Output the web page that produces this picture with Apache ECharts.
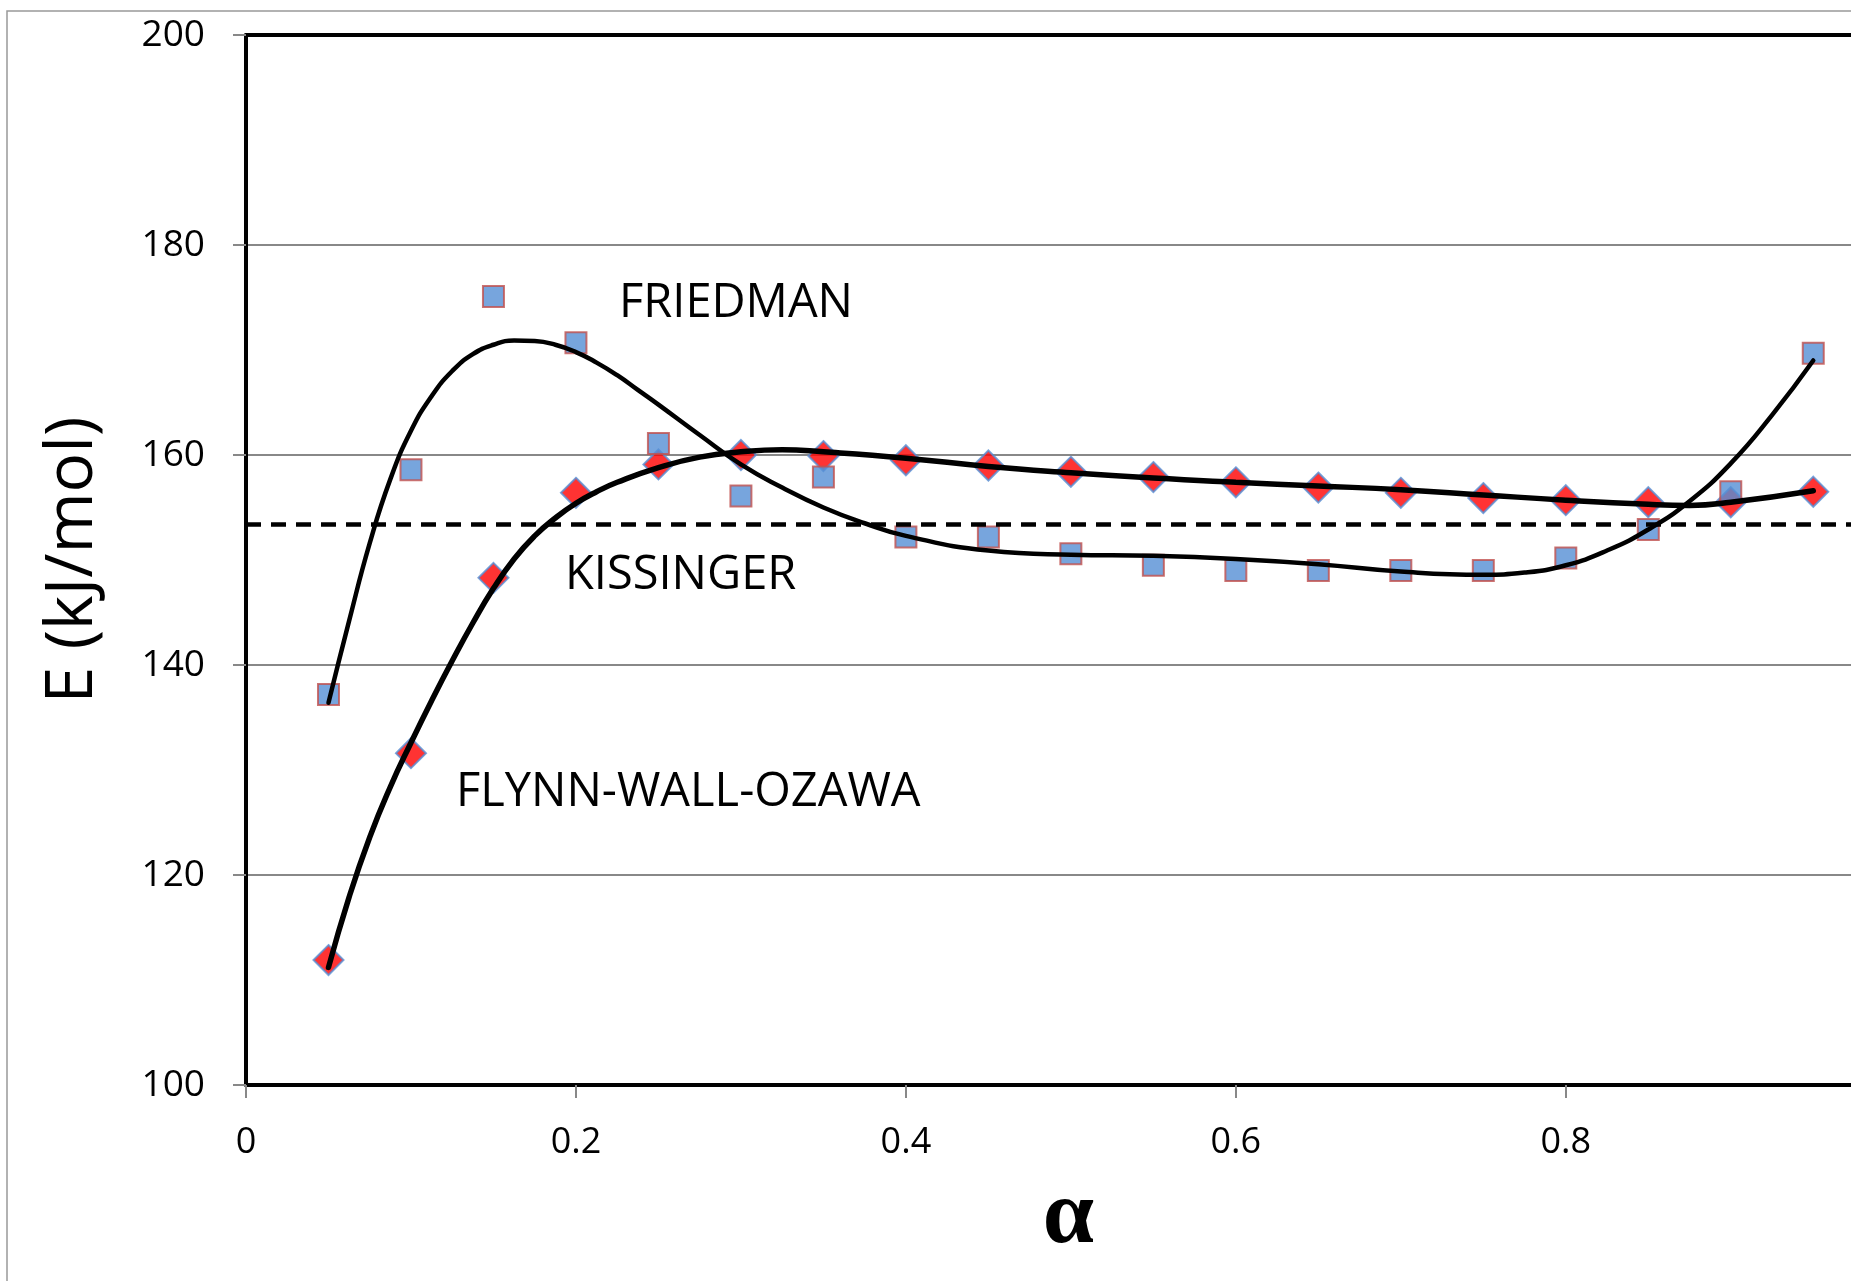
<!DOCTYPE html>
<html>
<head>
<meta charset="utf-8">
<script src="https://cdn.jsdelivr.net/npm/echarts@6/dist/echarts.min.js"></script>
<style>
html,body{margin:0;padding:0;background:#fff;}
#c{width:1851px;height:1281px;}
</style>
</head>
<body>
<div id="c"></div>
<script>
// ---- data ----
const alphaValues = [0.05,0.10,0.15,0.20,0.25,0.30,0.35,0.40,0.45,0.50,0.55,0.60,0.65,0.70,0.75,0.80,0.85,0.90,0.95];
const friedmanE   = [137.2,158.6,175.1,170.7,161.1,156.1,157.9,152.2,152.2,150.6,149.5,149.0,149.0,149.0,149.0,150.2,152.9,156.5,169.7];
const fwoE        = [111.9,131.6,148.3,156.4,159.1,160.0,159.9,159.5,159.0,158.4,157.9,157.4,156.9,156.4,155.9,155.7,155.5,155.5,156.5];
const kissingerE  = 153.4;

// trend curves as traced on the picture
const friedmanFitAlpha = [0.05,0.0625,0.075,0.0875,0.10,0.1125,0.125,0.1375,0.15,0.1625,0.175,0.1875,0.20,0.2125,0.225,0.2375,0.25,0.275,0.30,0.325,0.35,0.375,0.40,0.45,0.50,0.55,0.60,0.65,0.70,0.75,0.775,0.80,0.825,0.85,0.875,0.90,0.925,0.95];
const friedmanFitE     = [136.4,144.2,151.6,157.7,162.3,165.6,168.0,169.6,170.5,170.9,170.85,170.5,169.8,168.8,167.6,166.2,164.8,161.9,159.1,156.9,155.0,153.5,152.3,150.9,150.5,150.4,150.1,149.6,148.9,148.6,148.8,149.5,150.9,152.9,155.6,159.2,163.8,169.0];
const fwoFitAlpha = [0.05,0.0625,0.075,0.0875,0.10,0.1125,0.125,0.1375,0.15,0.1625,0.175,0.1875,0.20,0.2125,0.225,0.25,0.275,0.30,0.325,0.35,0.40,0.45,0.50,0.55,0.60,0.65,0.70,0.75,0.80,0.85,0.875,0.90,0.95];
const fwoFitE     = [111.2,117.9,123.6,128.4,132.6,136.6,140.4,144.0,147.3,150.1,152.3,154.0,155.4,156.5,157.4,158.8,159.8,160.3,160.5,160.3,159.7,158.9,158.3,157.8,157.4,157.05,156.7,156.2,155.7,155.3,155.2,155.5,156.6];

const yTicks = {min: 100, max: 200, step: 20};
const xTicks = {min: 0, max: 0.985, step: 0.2};
const labels = {friedman: 'FRIEDMAN', kissinger: 'KISSINGER', fwo: 'FLYNN-WALL-OZAWA'};

function pairs(xs, ys) { return xs.map((x, i) => [x, ys[i]]); }

const chart = echarts.init(document.getElementById('c'), null, {renderer: 'canvas'});
const FONT = '"Open Sans", "Noto Sans", sans-serif';

chart.setOption({
  animation: false,
  backgroundColor: '#ffffff',
  grid: {
    left: 246, top: 35, right: -20, bottom: 196,
    outerBoundsMode: 'none', containLabel: false,
    show: false
  },
  xAxis: [{
    type: 'value', min: xTicks.min, max: xTicks.max, interval: xTicks.step,
    name: 'α', nameLocation: 'middle', nameGap: 87,
    nameTextStyle: {fontFamily: '"Liberation Serif", "DejaVu Serif", serif', fontWeight: 'bold', fontSize: 92, color: '#000', padding: [0, 0, 0, 20]},
    axisLine: {show: true, lineStyle: {color: '#000', width: 4}},
    axisTick: {show: true, inside: false, length: 13, lineStyle: {color: '#888', width: 2}},
    axisLabel: {show: true, showMaxLabel: false, margin: 40, fontFamily: FONT, fontSize: 36, color: '#000',
      formatter: v => (Math.abs(v / 0.2 - Math.round(v / 0.2)) < 1e-6 ? String(+v.toFixed(1)) : '')},
    splitLine: {show: false}
  }, {
    type: 'value', position: 'top', min: xTicks.min, max: xTicks.max,
    axisLine: {show: true, lineStyle: {color: '#000', width: 4}},
    axisTick: {show: false}, axisLabel: {show: false}, splitLine: {show: false}
  }],
  yAxis: {
    type: 'value', min: yTicks.min, max: yTicks.max, interval: yTicks.step,
    name: 'E (kJ/mol)', nameLocation: 'middle', nameRotate: 90, nameGap: 140,
    nameTextStyle: {fontFamily: FONT, fontSize: 66, color: '#000'},
    axisLine: {show: true, lineStyle: {color: '#000', width: 4}},
    axisTick: {show: true, inside: false, length: 13, lineStyle: {color: '#888', width: 2}},
    axisLabel: {margin: 41, fontFamily: FONT, fontSize: 37, color: '#000'},
    splitLine: {show: true, lineStyle: {color: '#888', width: 2}}
  },
  series: [
    {
      name: 'FWO points', type: 'scatter', z: 2,
      symbol: 'diamond', symbolSize: [30, 30],
      itemStyle: {color: '#ff0000', borderColor: '#558ed5', borderWidth: 2},
      data: pairs(alphaValues, fwoE)
    },
    {
      name: 'Kissinger', type: 'line', z: 3, data: [], symbol: 'none',
      markLine: {
        silent: true, symbol: 'none', label: {show: false},
        lineStyle: {color: '#000', width: 4.5, type: [15, 10]},
        data: [{yAxis: kissingerE}]
      }
    },
    {
      name: 'Friedman points', type: 'scatter', z: 4,
      symbol: 'rect', symbolSize: [21, 21],
      itemStyle: {color: '#558ed5', borderColor: '#c0504d', borderWidth: 2},
      data: pairs(alphaValues, friedmanE)
    },
    {
      name: 'Friedman fit', type: 'line', z: 5, symbol: 'none',
      smooth: 0.5,
      lineStyle: {color: '#000', width: 4.5, cap: 'round'},
      data: pairs(friedmanFitAlpha, friedmanFitE)
    },
    {
      name: 'FWO fit', type: 'line', z: 6, symbol: 'none',
      smooth: 0.5,
      lineStyle: {color: '#000', width: 5.5, cap: 'round'},
      data: pairs(fwoFitAlpha, fwoFitE)
    }
  ],
  graphic: [
    {type: 'rect', silent: true, z: -10, shape: {x: 7, y: 11, width: 2400, height: 2400},
     style: {fill: 'none', stroke: '#999', lineWidth: 1.5}},
    {type: 'text', left: 619, top: 280, silent: true,
     style: {text: labels.friedman, font: '47px ' + FONT, fill: '#000'}},
    {type: 'text', left: 565, top: 552, silent: true,
     style: {text: labels.kissinger, font: '47px ' + FONT, fill: '#000'}},
    {type: 'text', left: 456, top: 769, silent: true,
     style: {text: labels.fwo, font: '47px ' + FONT, fill: '#000'}}
  ]
});
</script>
</body>
</html>
